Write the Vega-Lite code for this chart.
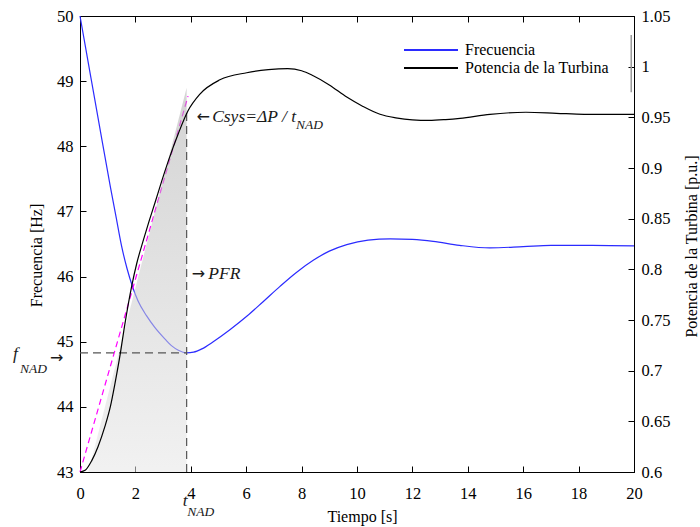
{
  "$schema": "https://vega.github.io/schema/vega-lite/v6.json",
  "width": 554,
  "height": 456,
  "autosize": "none",
  "padding": {"left": 80, "top": 16, "right": 66, "bottom": 55},
  "background": "white",
  "config": {
    "view": {"stroke": "black", "strokeWidth": 1},
    "font": "Liberation Serif",
    "axis": {
      "domainColor": "black", "tickColor": "black", "labelColor": "black", "titleColor": "black",
      "labelFont": "Liberation Serif", "titleFont": "Liberation Serif",
      "labelFontSize": 16.5, "titleFontSize": 16, "titleFontWeight": "normal",
      "grid": false, "ticks": true, "tickSize": -6, "tickWidth": 1, "domainWidth": 1,
      "labelFlush": false, "labelOverlap": false, "zindex": 1
    },
    "legend": {
      "labelFont": "Liberation Serif", "labelFontSize": 16, "labelColor": "black"
    }
  },
  "datasets": {
    "freq": [
      {"t": 0, "f": 50, "series": "Frecuencia"},
      {"t": 0.4, "f": 49.04, "series": "Frecuencia"},
      {"t": 0.8, "f": 48.08, "series": "Frecuencia"},
      {"t": 1.1, "f": 47.37, "series": "Frecuencia"},
      {"t": 1.3, "f": 46.92, "series": "Frecuencia"},
      {"t": 1.5, "f": 46.47, "series": "Frecuencia"},
      {"t": 1.7, "f": 46.12, "series": "Frecuencia"},
      {"t": 1.9, "f": 45.84, "series": "Frecuencia"},
      {"t": 2.1, "f": 45.62, "series": "Frecuencia"},
      {"t": 2.4, "f": 45.4, "series": "Frecuencia"},
      {"t": 2.7, "f": 45.22, "series": "Frecuencia"},
      {"t": 3.07, "f": 45.04, "series": "Frecuencia"},
      {"t": 3.3, "f": 44.94, "series": "Frecuencia"},
      {"t": 3.55, "f": 44.87, "series": "Frecuencia"},
      {"t": 3.85, "f": 44.83, "series": "Frecuencia"},
      {"t": 4.1, "f": 44.84, "series": "Frecuencia"},
      {"t": 4.4, "f": 44.89, "series": "Frecuencia"},
      {"t": 4.81, "f": 45.0, "series": "Frecuencia"},
      {"t": 5.4, "f": 45.18, "series": "Frecuencia"},
      {"t": 6.02, "f": 45.39, "series": "Frecuencia"},
      {"t": 6.6, "f": 45.61, "series": "Frecuencia"},
      {"t": 7.22, "f": 45.85, "series": "Frecuencia"},
      {"t": 7.8, "f": 46.06, "series": "Frecuencia"},
      {"t": 8.42, "f": 46.25, "series": "Frecuencia"},
      {"t": 9.0, "f": 46.39, "series": "Frecuencia"},
      {"t": 9.63, "f": 46.49, "series": "Frecuencia"},
      {"t": 10.4, "f": 46.56, "series": "Frecuencia"},
      {"t": 11.2, "f": 46.58, "series": "Frecuencia"},
      {"t": 12.0, "f": 46.57, "series": "Frecuencia"},
      {"t": 12.75, "f": 46.54, "series": "Frecuencia"},
      {"t": 13.7, "f": 46.48, "series": "Frecuencia"},
      {"t": 14.8, "f": 46.44, "series": "Frecuencia"},
      {"t": 16.0, "f": 46.46, "series": "Frecuencia"},
      {"t": 17.0, "f": 46.48, "series": "Frecuencia"},
      {"t": 18.5, "f": 46.48, "series": "Frecuencia"},
      {"t": 20, "f": 46.47, "series": "Frecuencia"}
    ],
    "pow": [
      {"t": 0, "p": 0.6, "series": "Potencia de la Turbina"},
      {"t": 0.2, "p": 0.602, "series": "Potencia de la Turbina"},
      {"t": 0.42, "p": 0.611, "series": "Potencia de la Turbina"},
      {"t": 0.65, "p": 0.625, "series": "Potencia de la Turbina"},
      {"t": 0.9, "p": 0.645, "series": "Potencia de la Turbina"},
      {"t": 1.1, "p": 0.665, "series": "Potencia de la Turbina"},
      {"t": 1.26, "p": 0.687, "series": "Potencia de la Turbina"},
      {"t": 1.45, "p": 0.716, "series": "Potencia de la Turbina"},
      {"t": 1.62, "p": 0.746, "series": "Potencia de la Turbina"},
      {"t": 1.87, "p": 0.784, "series": "Potencia de la Turbina"},
      {"t": 2.05, "p": 0.806, "series": "Potencia de la Turbina"},
      {"t": 2.29, "p": 0.829, "series": "Potencia de la Turbina"},
      {"t": 2.5, "p": 0.848, "series": "Potencia de la Turbina"},
      {"t": 2.71, "p": 0.866, "series": "Potencia de la Turbina"},
      {"t": 2.95, "p": 0.887, "series": "Potencia de la Turbina"},
      {"t": 3.19, "p": 0.907, "series": "Potencia de la Turbina"},
      {"t": 3.55, "p": 0.934, "series": "Potencia de la Turbina"},
      {"t": 3.89, "p": 0.956, "series": "Potencia de la Turbina"},
      {"t": 4.33, "p": 0.973, "series": "Potencia de la Turbina"},
      {"t": 5.05, "p": 0.987, "series": "Potencia de la Turbina"},
      {"t": 6.02, "p": 0.994, "series": "Potencia de la Turbina"},
      {"t": 6.8, "p": 0.997, "series": "Potencia de la Turbina"},
      {"t": 7.5, "p": 0.998, "series": "Potencia de la Turbina"},
      {"t": 8.0, "p": 0.996, "series": "Potencia de la Turbina"},
      {"t": 8.42, "p": 0.991, "series": "Potencia de la Turbina"},
      {"t": 9.0, "p": 0.982, "series": "Potencia de la Turbina"},
      {"t": 9.63, "p": 0.97, "series": "Potencia de la Turbina"},
      {"t": 10.2, "p": 0.961, "series": "Potencia de la Turbina"},
      {"t": 10.83, "p": 0.953, "series": "Potencia de la Turbina"},
      {"t": 11.4, "p": 0.9495, "series": "Potencia de la Turbina"},
      {"t": 12.0, "p": 0.9475, "series": "Potencia de la Turbina"},
      {"t": 12.6, "p": 0.947, "series": "Potencia de la Turbina"},
      {"t": 13.2, "p": 0.9478, "series": "Potencia de la Turbina"},
      {"t": 13.72, "p": 0.949, "series": "Potencia de la Turbina"},
      {"t": 14.8, "p": 0.953, "series": "Potencia de la Turbina"},
      {"t": 16.1, "p": 0.955, "series": "Potencia de la Turbina"},
      {"t": 17.2, "p": 0.954, "series": "Potencia de la Turbina"},
      {"t": 18.2, "p": 0.953, "series": "Potencia de la Turbina"},
      {"t": 20, "p": 0.953, "series": "Potencia de la Turbina"}
    ],
    "ramp": [{"t": 0, "f": 43.0}, {"t": 3.9, "f": 48.77}],
    "shade": [{"t": 0.3, "lo": 43, "hi": 43}, {"t": 3.85, "lo": 43, "hi": 48.9}],
    "guides": [
      {"t": 3.85, "t2": 3.85, "f": 43, "f2": 48.56},
      {"t": 0, "t2": 3.85, "f": 44.83, "f2": 44.83}
    ],
    "edge": [{"t": 19.9, "f": 49.71, "f2": 48.83}],
    "notes": [
      {"t": 4.77, "f": 48.38, "text": "Csys=ΔP / t"},
      {"t": 4.63, "f": 45.97, "text": "PFR"},
      {"t": -2.42, "f": 44.74, "text": "f"},
      {"t": 3.71, "f": 42.48, "text": "t"}
    ],
    "arrows": [
      {"t": 4.21, "f": 48.38, "text": "←"},
      {"t": 4.03, "f": 45.97, "text": "→"},
      {"t": -1.08, "f": 44.68, "text": "→"}
    ],
    "subs": [
      {"t": 7.8, "f": 48.27, "text": "NAD"},
      {"t": -2.17, "f": 44.52, "text": "NAD"},
      {"t": 3.87, "f": 42.32, "text": "NAD"}
    ]
  },
  "layer": [
    {
      "layer": [
        {
          "data": {"name": "freq"},
          "mark": {"type": "line", "strokeWidth": 1.2, "interpolate": "monotone"},
          "encoding": {
            "x": {"field": "t", "type": "quantitative", "scale": {"domain": [0, 20], "nice": false, "zero": false},
              "axis": {"values": [0, 2, 4, 6, 8, 10, 12, 14, 16, 18, 20], "labelPadding": 19, "title": "Tiempo [s]", "titleX": 282, "titleY": 49, "titleBaseline": "alphabetic", "titleAnchor": "start", "titleAlign": "center"}},
            "y": {"field": "f", "type": "quantitative", "scale": {"domain": [43, 50], "nice": false, "zero": false},
              "axis": {"values": [43, 44, 45, 46, 47, 48, 49, 50], "labelPadding": 13, "title": "Frecuencia [Hz]", "titleAngle": -90, "titleX": -44, "titleY": 239, "titleBaseline": "middle", "titleAlign": "center"}},
            "color": {"field": "series", "type": "nominal",
              "scale": {"domain": ["Frecuencia", "Potencia de la Turbina"], "range": ["#2b2bff", "#000000"]},
              "legend": {"title": null, "orient": "none", "legendX": 341, "legendY": 24, "symbolType": "M-3,0H3", "symbolSize": 324, "symbolStrokeWidth": 2, "labelOffset": 24, "rowPadding": 0, "padding": 0}}
          }
        },
        {
          "data": {"name": "ramp"},
          "mark": {"type": "line", "color": "#ff00ff", "strokeWidth": 1.2, "strokeDash": [6, 4]},
          "encoding": {
            "x": {"field": "t", "type": "quantitative", "scale": {"domain": [0, 20], "nice": false, "zero": false},
              "axis": {"values": [0, 2, 4, 6, 8, 10, 12, 14, 16, 18, 20], "labelPadding": 19, "title": "Tiempo [s]", "titleX": 282, "titleY": 49, "titleBaseline": "alphabetic", "titleAnchor": "start", "titleAlign": "center"}},
            "y": {"field": "f", "type": "quantitative", "scale": {"domain": [43, 50], "nice": false, "zero": false},
              "axis": {"values": [43, 44, 45, 46, 47, 48, 49, 50], "labelPadding": 13, "title": "Frecuencia [Hz]", "titleAngle": -90, "titleX": -44, "titleY": 239, "titleBaseline": "middle", "titleAlign": "center"}}
          }
        },
        {
          "data": {"name": "shade"},
          "mark": {"type": "area", "fillOpacity": 0.55,
            "color": {"gradient": "linear", "x1": 0, "y1": 0, "x2": 0, "y2": 1,
              "stops": [{"offset": 0, "color": "#b0b0b0"}, {"offset": 1, "color": "#e6e6e6"}]}},
          "encoding": {
            "x": {"field": "t", "type": "quantitative", "scale": {"domain": [0, 20], "nice": false, "zero": false},
              "axis": {"values": [0, 2, 4, 6, 8, 10, 12, 14, 16, 18, 20], "labelPadding": 19, "title": "Tiempo [s]", "titleX": 282, "titleY": 49, "titleBaseline": "alphabetic", "titleAnchor": "start", "titleAlign": "center"}},
            "y": {"field": "hi", "type": "quantitative", "scale": {"domain": [43, 50], "nice": false, "zero": false},
              "axis": {"values": [43, 44, 45, 46, 47, 48, 49, 50], "labelPadding": 13, "title": "Frecuencia [Hz]", "titleAngle": -90, "titleX": -44, "titleY": 239, "titleBaseline": "middle", "titleAlign": "center"}},
            "y2": {"field": "lo"}
          }
        },
        {
          "data": {"name": "guides"},
          "mark": {"type": "rule", "color": "#555555", "strokeWidth": 1.2, "strokeDash": [8, 5]},
          "encoding": {
            "x": {"field": "t", "type": "quantitative", "scale": {"domain": [0, 20], "nice": false, "zero": false},
              "axis": {"values": [0, 2, 4, 6, 8, 10, 12, 14, 16, 18, 20], "labelPadding": 19, "title": "Tiempo [s]", "titleX": 282, "titleY": 49, "titleBaseline": "alphabetic", "titleAnchor": "start", "titleAlign": "center"}},
            "x2": {"field": "t2"},
            "y": {"field": "f", "type": "quantitative", "scale": {"domain": [43, 50], "nice": false, "zero": false},
              "axis": {"values": [43, 44, 45, 46, 47, 48, 49, 50], "labelPadding": 13, "title": "Frecuencia [Hz]", "titleAngle": -90, "titleX": -44, "titleY": 239, "titleBaseline": "middle", "titleAlign": "center"}},
            "y2": {"field": "f2"}
          }
        },
        {
          "data": {"name": "edge"},
          "mark": {"type": "rule", "color": "#999999", "strokeWidth": 1.5},
          "encoding": {
            "x": {"field": "t", "type": "quantitative", "scale": {"domain": [0, 20], "nice": false, "zero": false},
              "axis": {"values": [0, 2, 4, 6, 8, 10, 12, 14, 16, 18, 20], "labelPadding": 19, "title": "Tiempo [s]", "titleX": 282, "titleY": 49, "titleBaseline": "alphabetic", "titleAnchor": "start", "titleAlign": "center"}},
            "y": {"field": "f", "type": "quantitative", "scale": {"domain": [43, 50], "nice": false, "zero": false},
              "axis": {"values": [43, 44, 45, 46, 47, 48, 49, 50], "labelPadding": 13, "title": "Frecuencia [Hz]", "titleAngle": -90, "titleX": -44, "titleY": 239, "titleBaseline": "middle", "titleAlign": "center"}},
            "y2": {"field": "f2"}
          }
        },
        {
          "data": {"name": "notes"},
          "mark": {"type": "text", "font": "Liberation Serif", "fontStyle": "italic", "fontSize": 17.5, "align": "left", "baseline": "alphabetic", "color": "#1a1a1a"},
          "encoding": {
            "x": {"field": "t", "type": "quantitative", "scale": {"domain": [0, 20], "nice": false, "zero": false},
              "axis": {"values": [0, 2, 4, 6, 8, 10, 12, 14, 16, 18, 20], "labelPadding": 19, "title": "Tiempo [s]", "titleX": 282, "titleY": 49, "titleBaseline": "alphabetic", "titleAnchor": "start", "titleAlign": "center"}},
            "y": {"field": "f", "type": "quantitative", "scale": {"domain": [43, 50], "nice": false, "zero": false},
              "axis": {"values": [43, 44, 45, 46, 47, 48, 49, 50], "labelPadding": 13, "title": "Frecuencia [Hz]", "titleAngle": -90, "titleX": -44, "titleY": 239, "titleBaseline": "middle", "titleAlign": "center"}},
            "text": {"field": "text"}
          }
        },
        {
          "data": {"name": "arrows"},
          "mark": {"type": "text", "font": "DejaVu Sans", "fontSize": 16, "align": "left", "baseline": "alphabetic", "color": "#1a1a1a"},
          "encoding": {
            "x": {"field": "t", "type": "quantitative", "scale": {"domain": [0, 20], "nice": false, "zero": false},
              "axis": {"values": [0, 2, 4, 6, 8, 10, 12, 14, 16, 18, 20], "labelPadding": 19, "title": "Tiempo [s]", "titleX": 282, "titleY": 49, "titleBaseline": "alphabetic", "titleAnchor": "start", "titleAlign": "center"}},
            "y": {"field": "f", "type": "quantitative", "scale": {"domain": [43, 50], "nice": false, "zero": false},
              "axis": {"values": [43, 44, 45, 46, 47, 48, 49, 50], "labelPadding": 13, "title": "Frecuencia [Hz]", "titleAngle": -90, "titleX": -44, "titleY": 239, "titleBaseline": "middle", "titleAlign": "center"}},
            "text": {"field": "text"}
          }
        },
        {
          "data": {"name": "subs"},
          "mark": {"type": "text", "font": "Liberation Serif", "fontStyle": "italic", "fontSize": 13.5, "align": "left", "baseline": "alphabetic", "color": "#1a1a1a"},
          "encoding": {
            "x": {"field": "t", "type": "quantitative", "scale": {"domain": [0, 20], "nice": false, "zero": false},
              "axis": {"values": [0, 2, 4, 6, 8, 10, 12, 14, 16, 18, 20], "labelPadding": 19, "title": "Tiempo [s]", "titleX": 282, "titleY": 49, "titleBaseline": "alphabetic", "titleAnchor": "start", "titleAlign": "center"}},
            "y": {"field": "f", "type": "quantitative", "scale": {"domain": [43, 50], "nice": false, "zero": false},
              "axis": {"values": [43, 44, 45, 46, 47, 48, 49, 50], "labelPadding": 13, "title": "Frecuencia [Hz]", "titleAngle": -90, "titleX": -44, "titleY": 239, "titleBaseline": "middle", "titleAlign": "center"}},
            "text": {"field": "text"}
          }
        }
      ]
    },
    {
      "data": {"name": "pow"},
      "mark": {"type": "line", "strokeWidth": 1.2, "interpolate": "monotone"},
      "encoding": {
        "x": {"field": "t", "type": "quantitative", "scale": {"domain": [0, 20], "nice": false, "zero": false},
          "axis": {"orient": "top", "values": [0, 2, 4, 6, 8, 10, 12, 14, 16, 18, 20], "labels": false, "domain": false, "title": null}},
        "y": {"field": "p", "type": "quantitative", "scale": {"domain": [0.6, 1.05], "nice": false, "zero": false},
          "axis": {"orient": "right", "values": [0.6, 0.65, 0.7, 0.75, 0.8, 0.85, 0.9, 0.95, 1, 1.05], "format": "~g", "labelPadding": 13, "title": "Potencia de la Turbina [p.u.]", "titleAngle": -90, "titleX": 57, "titleY": 230, "titleBaseline": "middle", "titleAlign": "center"}},
        "color": {"field": "series", "type": "nominal"}
      }
    }
  ],
  "resolve": {"scale": {"y": "independent", "x": "independent"}}
}
